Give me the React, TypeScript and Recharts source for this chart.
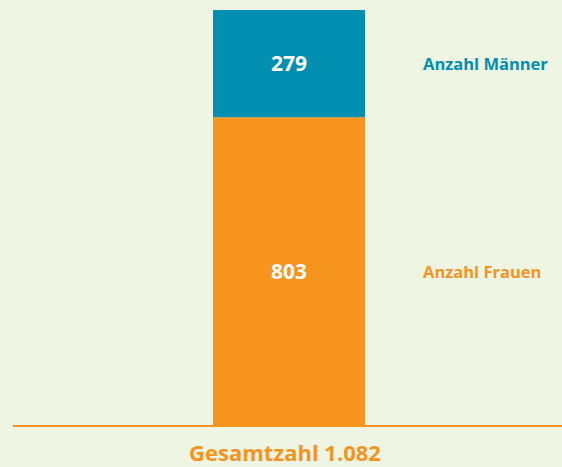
import { BarChart, Bar, XAxis, YAxis, LabelList } from 'recharts'

const categories = ['Gesamtzahl 1.082']
const frauen = [803]
const maenner = [279]
const seriesNames = { frauen: 'Anzahl Frauen', maenner: 'Anzahl Männer' }

const ORANGE = '#f7941d'
const TEAL = '#008fb0'
const BG = '#eef5e3'
const FONT = '"Open Sans", Lato, sans-serif'

const data = categories.map((name, i) => ({ name, frauen: frauen[i], maenner: maenner[i] }))

// series name placed to the right of the bar segment
const sideLabel = (text: string, color: string) => (props: any) => {
  const { x, y, width, height } = props
  return (
    <text
      x={Number(x) + Number(width) + 58}
      y={Number(y) + Number(height) / 2}
      dominantBaseline="central"
      fill={color}
      fontSize={16.5}
      fontWeight={700}
      fontFamily={FONT}
    >
      {text}
    </text>
  )
}

const TotalTick = ({ x, y, payload }: any) => (
  <text x={x - 4} y={y + 27} textAnchor="middle" fill={ORANGE} fontSize={22} fontWeight={700} fontFamily={FONT}>
    {payload.value}
  </text>
)

export default function App() {
  return (
    <div style={{ position: 'fixed', left: 0, top: 0, width: 562, height: 467, background: BG }}>
      <BarChart width={562} height={467} data={data} margin={{ top: 10, right: 0, bottom: 0, left: 13 }}>
        <XAxis
          dataKey="name"
          axisLine={{ stroke: ORANGE, strokeWidth: 2 }}
          tickLine={false}
          tick={<TotalTick />}
          padding={{ left: 3, right: 0 }}
          height={41}
        />
        <YAxis hide domain={[0, 'dataMax']} />
        <Bar dataKey="frauen" stackId="a" fill={ORANGE} barSize={152} isAnimationActive={false}>
          <LabelList dataKey="frauen" position="center" fill="#ffffff" fontSize={21} fontWeight={700} fontFamily={FONT} />
          <LabelList dataKey="frauen" content={sideLabel(seriesNames.frauen, ORANGE)} />
        </Bar>
        <Bar dataKey="maenner" stackId="a" fill={TEAL} barSize={152} isAnimationActive={false}>
          <LabelList dataKey="maenner" position="center" fill="#ffffff" fontSize={21} fontWeight={700} fontFamily={FONT} />
          <LabelList dataKey="maenner" content={sideLabel(seriesNames.maenner, TEAL)} />
        </Bar>
      </BarChart>
    </div>
  )
}
